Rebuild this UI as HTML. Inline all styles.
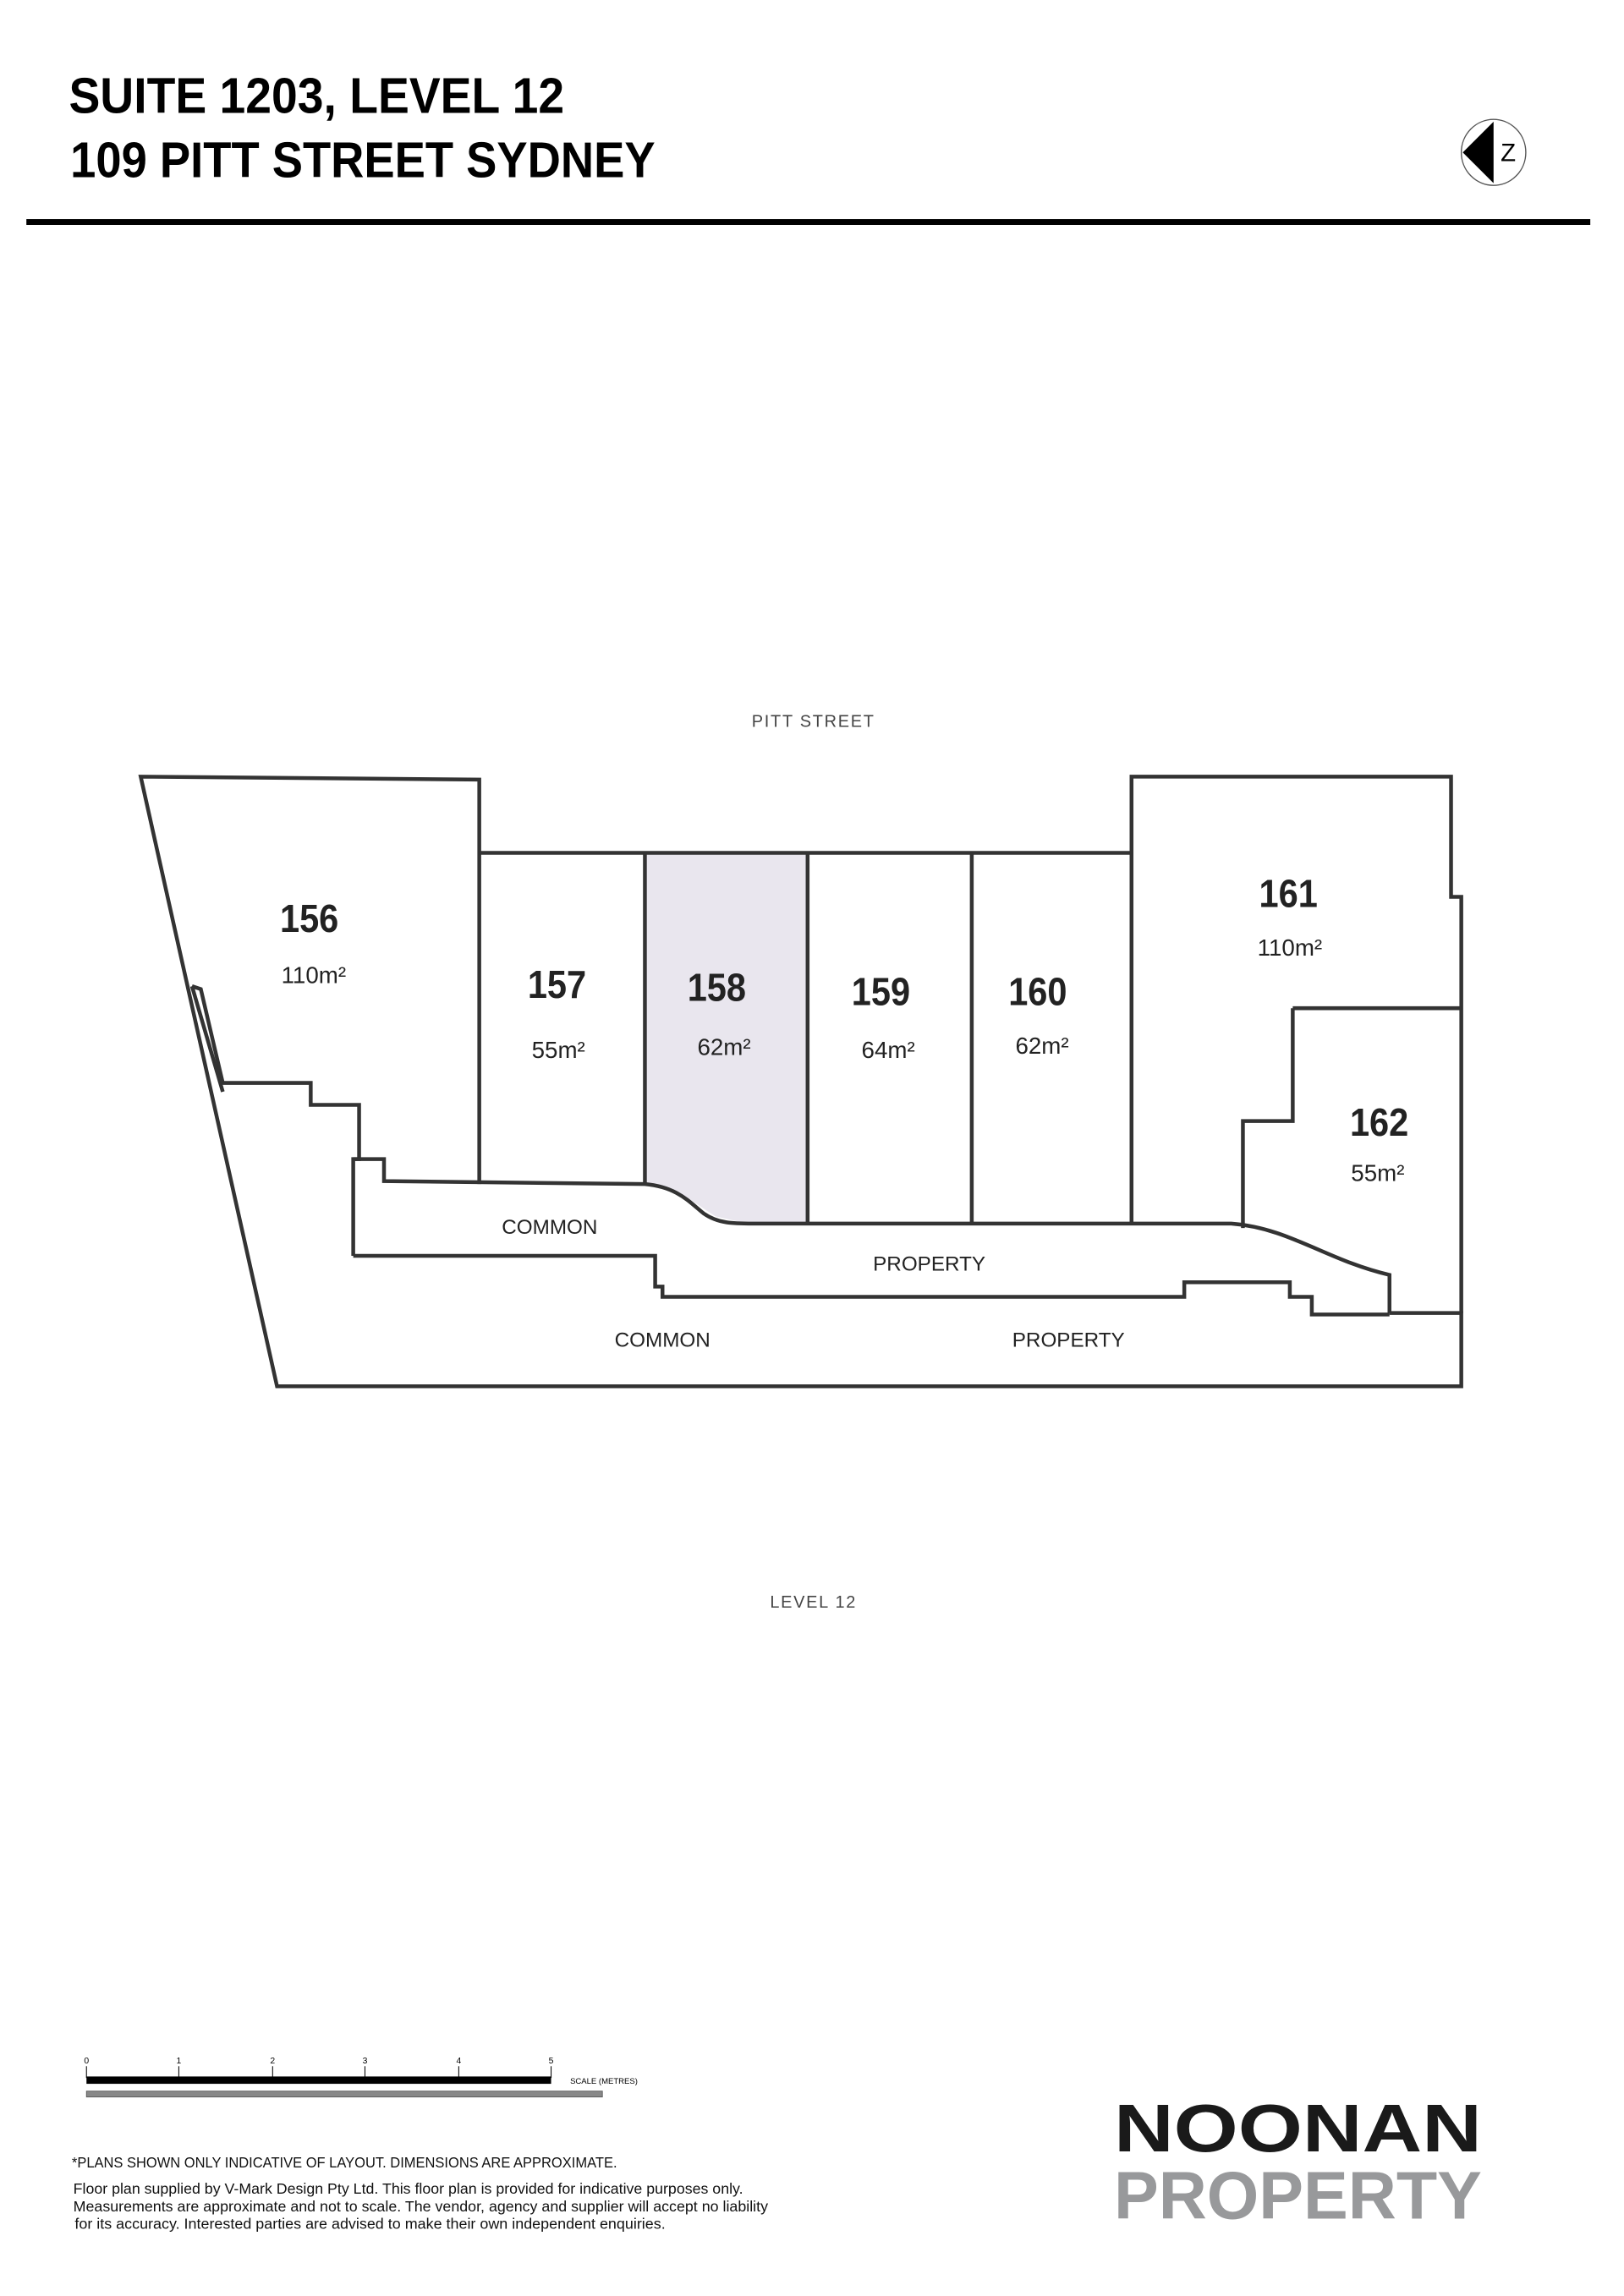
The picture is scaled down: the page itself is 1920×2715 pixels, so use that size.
<!DOCTYPE html>
<html><head><meta charset="utf-8"><style>
html,body{margin:0;padding:0;background:#fff;}
svg{display:block;}
</style></head><body>
<svg width="1920" height="2715" viewBox="0 0 1108 1566.8" preserveAspectRatio="none" xmlns="http://www.w3.org/2000/svg">
<rect width="1108" height="1566.8" fill="#fff"/>
<g font-family="'Liberation Sans Narrow','Liberation Sans',sans-serif" font-weight="bold" fill="#000">
<text x="47" y="77" font-size="34" textLength="338" lengthAdjust="spacingAndGlyphs">SUITE 1203, LEVEL 12</text>
<text x="48" y="121" font-size="34" textLength="399" lengthAdjust="spacingAndGlyphs">109 PITT STREET SYDNEY</text>
</g>
<rect x="18" y="149.5" width="1067" height="4" fill="#000"/>
<!-- compass -->
<ellipse cx="1019" cy="104" rx="22" ry="22.5" fill="#fff" stroke="#555" stroke-width="0.8"/>
<polygon points="998,104 1019,83 1019,125" fill="#000"/>
<text x="1029" y="110" font-family="'Liberation Sans',sans-serif" font-size="17" text-anchor="middle" fill="#000">Z</text>

<!-- plan -->
<text x="555" y="496" font-family="'Liberation Sans',sans-serif" font-size="11.5" letter-spacing="1" text-anchor="middle" fill="#444">PITT STREET</text>
<polygon points="440,582 551,582 551,835 510,835 488,830 470,818 455,810 440,808" fill="#e9e6ee"/>
<g fill="none" stroke="#333" stroke-width="2.6" stroke-linejoin="miter">
<polyline points="327,808 327,532 96,530 189,946 997,946 997,896 948,896"/>
<polyline points="131,673 137,675 152,739 212,739 212,754 245,754 245,791 241,791"/>
<line x1="131" y1="673" x2="152" y2="745"/>
<polyline points="327,582 772,582"/>
<polyline points="772,835 772,530 990,530 990,612 997,612 997,896"/>
<polyline points="882,688 997,688"/>
<polyline points="882,688 882,765 848,765 848,838"/>
<line x1="440" y1="582" x2="440" y2="808"/>
<line x1="551" y1="582" x2="551" y2="835"/>
<line x1="663" y1="582" x2="663" y2="835"/>
<path d="M241,857 L241,791 L262,791 L262,806 L440,808 C462,810 470,820 480,828 C490,835 500,835 515,835 L840,835 C880,838 905,860 948,870 L948,896"/>
<polyline points="241,857 447,857 447,878 452,878 452,885 808,885 808,875 880,875 880,885 895,885 895,897 948,897"/>
</g>
<g font-family="'Liberation Sans Narrow','Liberation Sans',sans-serif" fill="#222" text-anchor="middle">
<g font-size="27" font-weight="bold">
<text x="211" y="636" textLength="40" lengthAdjust="spacingAndGlyphs">156</text>
<text x="380" y="681" textLength="40" lengthAdjust="spacingAndGlyphs">157</text>
<text x="489" y="683" textLength="40" lengthAdjust="spacingAndGlyphs">158</text>
<text x="601" y="686" textLength="40" lengthAdjust="spacingAndGlyphs">159</text>
<text x="708" y="686" textLength="40" lengthAdjust="spacingAndGlyphs">160</text>
<text x="879" y="619" textLength="40" lengthAdjust="spacingAndGlyphs">161</text>
<text x="941" y="775" textLength="40" lengthAdjust="spacingAndGlyphs">162</text>
</g>
<g font-size="16">
<text x="214" y="671">110m²</text>
<text x="381" y="722">55m²</text>
<text x="494" y="720">62m²</text>
<text x="606" y="722">64m²</text>
<text x="711" y="719">62m²</text>
<text x="880" y="652">110m²</text>
<text x="940" y="806">55m²</text>
</g>
<g font-size="14">
<text x="375" y="842">COMMON</text>
<text x="634" y="867">PROPERTY</text>
<text x="452" y="919">COMMON</text>
<text x="729" y="919">PROPERTY</text>
</g>
</g>
<text x="555" y="1097" font-family="'Liberation Sans',sans-serif" font-size="11.5" letter-spacing="1" text-anchor="middle" fill="#444">LEVEL 12</text>

<g font-family="'Liberation Sans',sans-serif" font-size="6" fill="#000" text-anchor="middle">
<text x="59" y="1408">0</text><text x="122" y="1408">1</text><text x="186" y="1408">2</text>
<text x="249" y="1408">3</text><text x="313" y="1408">4</text><text x="376" y="1408">5</text>
</g>
<g stroke="#000" stroke-width="0.6">
<line x1="59" y1="1410" x2="59" y2="1418"/><line x1="122" y1="1410" x2="122" y2="1418"/>
<line x1="186" y1="1410" x2="186" y2="1418"/><line x1="249" y1="1410" x2="249" y2="1418"/>
<line x1="313" y1="1410" x2="313" y2="1418"/><line x1="376" y1="1410" x2="376" y2="1418"/>
</g>
<rect x="59" y="1417" width="317" height="5" fill="#000"/>
<rect x="59" y="1427" width="352" height="4" fill="#888" stroke="#555" stroke-width="0.5"/>
<text x="389" y="1422" font-family="'Liberation Sans',sans-serif" font-size="5.5" fill="#000">SCALE (METRES)</text>

<g font-family="'Liberation Sans Narrow','Liberation Sans',sans-serif" font-size="10" fill="#111">
<text x="49" y="1479" textLength="372" lengthAdjust="spacingAndGlyphs">*PLANS SHOWN ONLY INDICATIVE OF LAYOUT. DIMENSIONS ARE APPROXIMATE.</text>
<text x="50" y="1497" textLength="457" lengthAdjust="spacingAndGlyphs">Floor plan supplied by V-Mark Design Pty Ltd. This floor plan is provided for indicative purposes only.</text>
<text x="50" y="1509" textLength="474" lengthAdjust="spacingAndGlyphs">Measurements are approximate and not to scale. The vendor, agency and supplier will accept no liability</text>
<text x="51" y="1521" textLength="403" lengthAdjust="spacingAndGlyphs">for its accuracy. Interested parties are advised to make their own independent enquiries.</text>
</g>
<g font-family="'Liberation Sans',sans-serif" font-weight="bold">
<text x="760" y="1468" font-size="46" fill="#1a1a1a" textLength="251" lengthAdjust="spacingAndGlyphs">NOONAN</text>
<text x="760" y="1514" font-size="46" fill="#98999b" textLength="251" lengthAdjust="spacingAndGlyphs">PROPERTY</text>
</g>
</svg>
</body></html>
